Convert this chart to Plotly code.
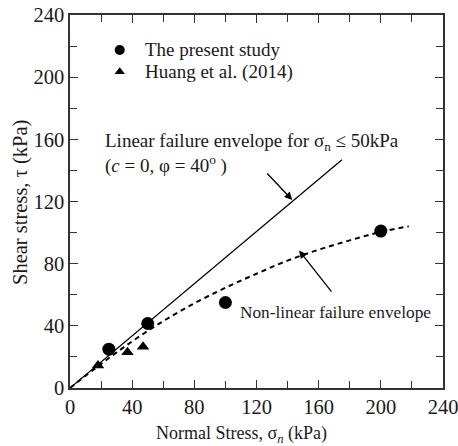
import plotly.graph_objects as go

# Data
present_sigma = [25, 50, 100, 200]
present_tau = [25, 41.5, 55, 101]
huang_sigma = [18, 37, 47]
huang_tau = [14.5, 23, 26.5]

linear_sigma = [0, 175]
linear_tau = [0, 146.8]

nonlin_sigma = [0, 20, 40, 60, 80, 100, 120, 140, 160, 180, 200, 218]
nonlin_tau = [0, 15.5, 30, 43, 54.5, 64.5, 73.5, 82, 89, 95, 100.5, 104]

tick_vals = [0, 40, 80, 120, 160, 200, 240]
tick_text = ["0", "40", "80", "120", "160", "200", "240"]

FONT = "Liberation Serif"
TXT = "#1a1a1a"

fig = go.Figure()
fig.add_trace(go.Scatter(x=linear_sigma, y=linear_tau, mode="lines",
                         line=dict(color="black", width=1.3), showlegend=False))
fig.add_trace(go.Scatter(x=nonlin_sigma, y=nonlin_tau, mode="lines",
                         line=dict(color="black", width=2, dash="5px,4px", shape="spline"),
                         showlegend=False))
fig.add_trace(go.Scatter(x=present_sigma, y=present_tau, mode="markers",
                         marker=dict(symbol="circle", size=13, color="black"), showlegend=False))
fig.add_trace(go.Scatter(x=huang_sigma, y=huang_tau, mode="markers",
                         marker=dict(symbol="triangle-up", size=11, color="black"), showlegend=False))

# legend markers
fig.add_trace(go.Scatter(x=[32], y=[217.5], mode="markers",
                         marker=dict(symbol="circle", size=10, color="black"), showlegend=False))
fig.add_trace(go.Scatter(x=[32], y=[203.5], mode="markers",
                         marker=dict(symbol="triangle-up", size=9, color="black"), showlegend=False))

ann_font = dict(family=FONT, size=19, color=TXT)
fig.add_annotation(x=47, y=217.5, text="The present study", showarrow=False,
                   xanchor="left", yanchor="middle", font=ann_font)
fig.add_annotation(x=47, y=203.5, text="Huang et al. (2014)", showarrow=False,
                   xanchor="left", yanchor="middle", font=ann_font)
fig.add_annotation(x=21, y=158.3, text="Linear failure envelope for σ<sub>n</sub> ≤ 50kPa",
                   showarrow=False, xanchor="left", yanchor="middle", font=ann_font)
fig.add_annotation(x=21, y=143.5, text="(<i>c</i> = 0, φ = 40<sup>o</sup> )",
                   showarrow=False, xanchor="left", yanchor="middle", font=ann_font)
fig.add_annotation(x=108, y=48.3, text="Non-linear failure envelope",
                   showarrow=False, xanchor="left", yanchor="middle",
                   font=dict(family=FONT, size=17.3, color=TXT))

# arrows
fig.add_annotation(x=143, y=121, ax=126, ay=139, xref="x", yref="y", axref="x", ayref="y",
                   text="", showarrow=True, arrowhead=2, arrowsize=1.2, arrowwidth=1.3,
                   arrowcolor="black")
fig.add_annotation(x=147.4, y=88.5, ax=169, ay=61, xref="x", yref="y", axref="x", ayref="y",
                   text="", showarrow=True, arrowhead=2, arrowsize=1.2, arrowwidth=1.3,
                   arrowcolor="black")

# axis titles (positioned in axis-domain units)
fig.add_annotation(x=(241.5 - 70) / 373, y=-(434 - 388) / 373, xref="x domain", yref="y domain",
                   text="Normal Stress, σ<sub><i>n</i></sub> (kPa)", showarrow=False,
                   xanchor="center", yanchor="middle",
                   font=dict(family=FONT, size=18, color=TXT))
fig.add_annotation(x=-(70 - 20) / 373, y=(388 - 203) / 373, xref="x domain", yref="y domain",
                   text="Shear stress, τ (kPa)", showarrow=False, textangle=-90,
                   xanchor="center", yanchor="middle",
                   font=dict(family=FONT, size=20.5, color=TXT))

axis_common = dict(range=[0, 240], tickvals=tick_vals, ticktext=tick_text,
                   ticks="inside", ticklen=8, tickwidth=1.2, tickcolor="#333",
                   showline=True, linecolor="#333", linewidth=1.5, mirror="ticks",
                   showgrid=False, zeroline=False, automargin=False,
                   ticklabeloverflow="allow",
                   tickfont=dict(family=FONT, size=20.5, color=TXT),
                   minor=dict(dtick=20, ticks="inside", ticklen=7, tickwidth=1.2, tickcolor="#333"))

fig.update_xaxes(**axis_common)
fig.update_yaxes(**axis_common)

fig.update_layout(width=458, height=446, margin=dict(l=70, r=15, t=15, b=58),
                  plot_bgcolor="white", paper_bgcolor="white", showlegend=False)

fig.write_html("out.html")
